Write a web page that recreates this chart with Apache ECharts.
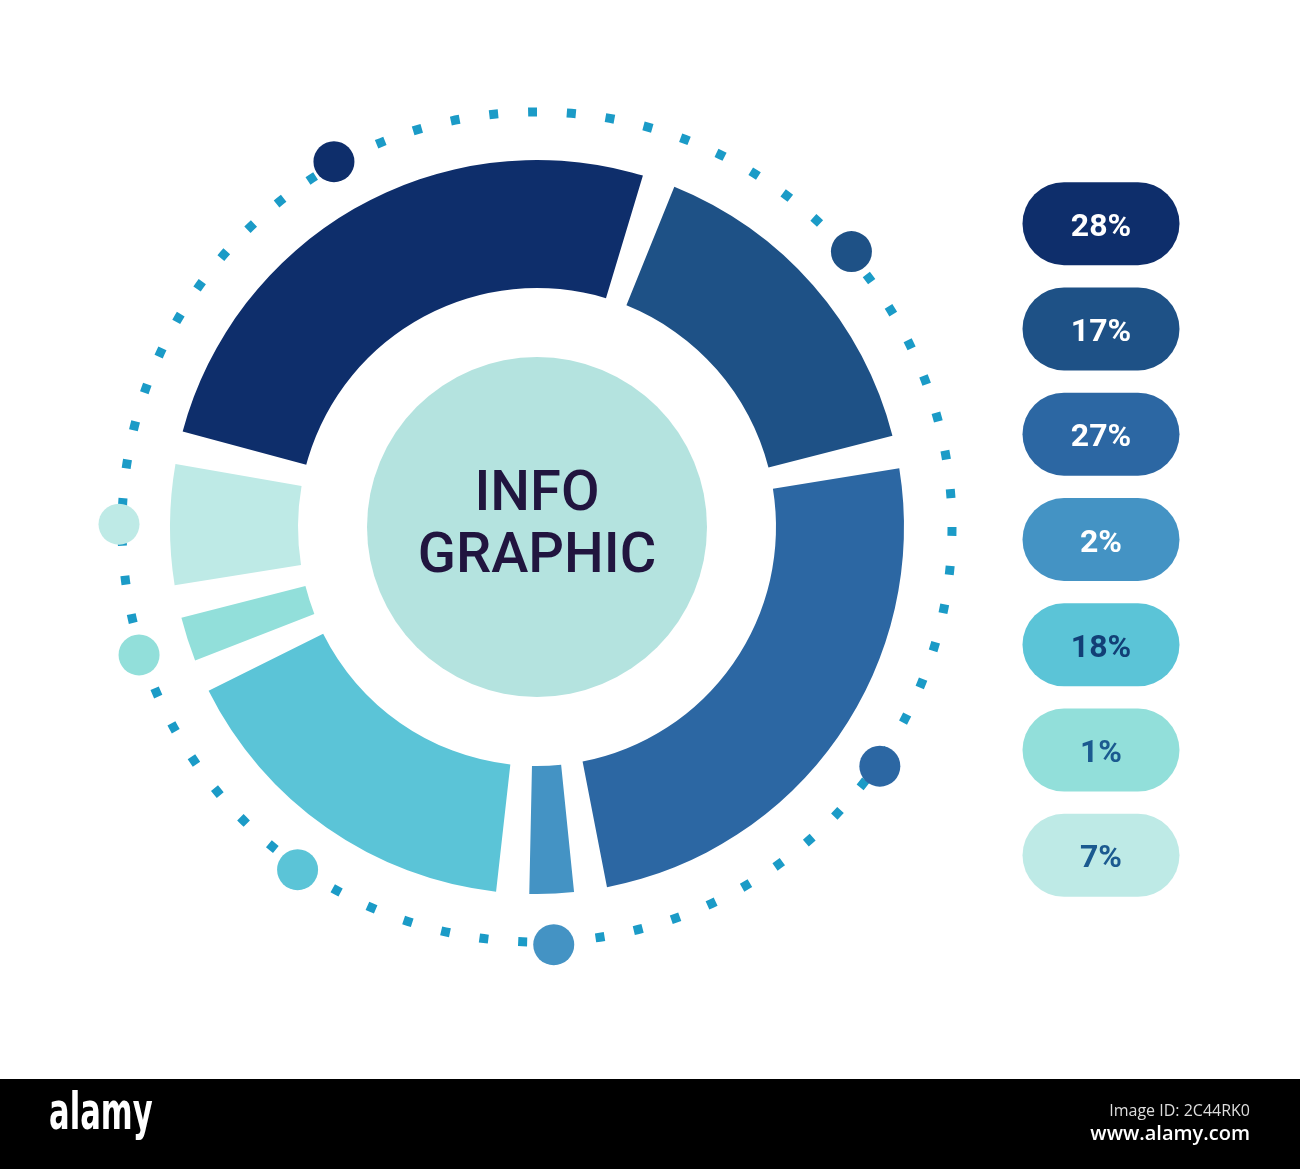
<!DOCTYPE html>
<html>
<head>
<meta charset="utf-8">
<script src="https://cdn.jsdelivr.net/npm/echarts@6/dist/echarts.min.js"></script>
<style>
html,body{margin:0;padding:0;background:#ffffff;}
#chart{width:1300px;height:1169px;}
</style>
</head>
<body>
<div id="chart"></div>
<script>
// ---- data ----
const categories = ['Part 1', 'Part 2', 'Part 3', 'Part 4', 'Part 5', 'Part 6', 'Part 7'];
const values = [28, 17, 27, 2, 18, 1, 7];
const sliceColors = ['#0E2E6B', '#1E5186', '#2C67A3', '#4493C4', '#5BC4D7', '#92DFDA', '#BEEAE6'];
const pillTextColors = ['#FFFFFF', '#FFFFFF', '#FFFFFF', '#FFFFFF', '#123F76', '#1B5A90', '#1B5A90'];
const centerTitle = 'INFO\nGRAPHIC';
const footerBrand = 'alamy';
const footerId = 'Image ID: 2C44RK0';
const footerUrl = 'www.alamy.com';

// ---- layout ----
const CX = 537, CY = 527;
const START = 167.5, PAD = 5.2, MINANG = 7;
const RING_R = 415;

const chart = echarts.init(document.getElementById('chart'), null, { renderer: 'canvas' });

const donutData = values.map((v, i) => ({
  name: categories[i], value: v, itemStyle: { color: sliceColors[i] }
}));
const dotData = values.map((v, i) => ({
  name: categories[i], value: v,
  label: { rich: { d: { width: 41, height: 41, borderRadius: 20.5, backgroundColor: sliceColors[i] } } }
}));

const option = {
  backgroundColor: '#ffffff',
  animation: false,
  graphic: [
    { type: 'circle', z: 0, silent: true,
      shape: { cx: CX, cy: CY, r: RING_R },
      style: { fill: 'none', stroke: '#1B9BC7', lineWidth: 9, lineDash: [9, 29.92] } },
    { type: 'rect', z: 0, silent: true,
      shape: { x: 0, y: 1079, width: 1300, height: 90 },
      style: { fill: '#000000' } },
    { type: 'text', z: 1, silent: true, x: 49, y: 1116, scaleX: 0.6,
      style: { text: footerBrand, fill: '#ffffff', font: 'bold 51px "DejaVu Sans", sans-serif', verticalAlign: 'middle' } },
    { type: 'text', z: 1, silent: true, x: 1250, y: 1111,
      style: { text: footerId, fill: '#dddddd', font: '16px "Open Sans", sans-serif', align: 'right', verticalAlign: 'middle' } },
    { type: 'text', z: 1, silent: true, x: 1250, y: 1134,
      style: { text: footerUrl, fill: '#ffffff', font: '600 20px "Open Sans", sans-serif', align: 'right', verticalAlign: 'middle' } }
  ],
  grid: { left: 1022, width: 158, top: 171, height: 737 },
  xAxis: { type: 'value', min: -1, max: 1, show: false },
  yAxis: { type: 'category', data: categories, inverse: true, show: false },
  series: [
    {
      type: 'pie', name: 'center', silent: true, z: 1,
      center: [CX, CY], radius: [0, 170],
      label: {
        show: true, position: 'center', formatter: centerTitle,
        color: '#21153F', fontSize: 56, fontWeight: 500, lineHeight: 62,
        padding: [10, 0, 0, 0],
        fontFamily: 'Roboto, "DejaVu Sans", sans-serif'
      },
      labelLine: { show: false },
      emphasis: { disabled: true },
      data: [{ name: 'center', value: 1, itemStyle: { color: '#B4E3DF' } }]
    },
    {
      type: 'pie', name: 'donut', silent: true, z: 2,
      center: [CX, CY], radius: [239, 367],
      startAngle: START, clockwise: true, padAngle: PAD, minAngle: MINANG,
      avoidLabelOverlap: false,
      label: { show: false }, labelLine: { show: false },
      emphasis: { disabled: true },
      data: donutData
    },
    {
      type: 'pie', name: 'dots', silent: true, z: 3,
      center: [CX, CY], radius: [RING_R - 10, RING_R + 10],
      startAngle: START, clockwise: true, padAngle: PAD, minAngle: MINANG,
      avoidLabelOverlap: false,
      itemStyle: { color: 'rgba(0,0,0,0)' },
      label: { show: true, position: 'inside', formatter: '{d| }', rotate: 0 },
      labelLine: { show: false },
      emphasis: { disabled: true },
      data: dotData
    },
    {
      type: 'scatter', name: 'pills', silent: true, z: 4,
      symbol: 'path://M41.5,0H115.5A41.5,41.5,0,0,1,115.5,83H41.5A41.5,41.5,0,0,1,41.5,0Z',
      symbolSize: [157, 83],
      data: values.map((v, i) => ({
        value: [0, categories[i]],
        itemStyle: { color: sliceColors[i], opacity: 1 },
        label: { color: pillTextColors[i] }
      })),
      label: {
        show: true, position: 'inside', offset: [0, 4],
        formatter: p => values[p.dataIndex] + '%',
        fontSize: 32, fontWeight: 'bold',
        fontFamily: 'Roboto, "DejaVu Sans", sans-serif'
      },
      emphasis: { disabled: true }
    }
  ]
};
chart.setOption(option);
</script>
</body>
</html>
